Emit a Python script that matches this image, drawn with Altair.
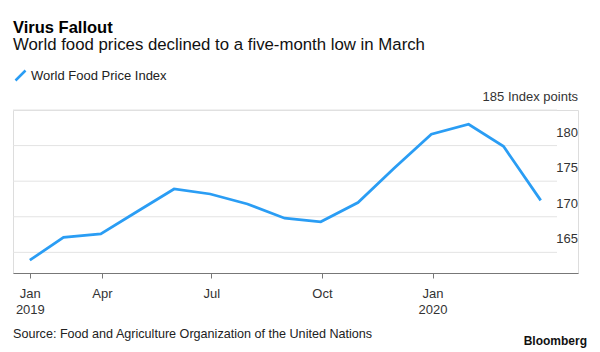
import altair as alt
import pandas as pd

# ---- data ----
dates = ["2019-01-31", "2019-02-28", "2019-03-31", "2019-04-30", "2019-05-31",
         "2019-06-30", "2019-07-31", "2019-08-31", "2019-09-30", "2019-10-31",
         "2019-11-30", "2019-12-31", "2020-01-31", "2020-02-29", "2020-03-31"]
values = [163.9, 167.1, 167.6, 170.7, 173.9, 173.2, 171.8, 169.8, 169.3, 172.0,
          176.8, 181.6, 183.0, 179.9, 172.3]
series_name = "World Food Price Index"

x_tick_dates = ["2019-01-31", "2019-04-01", "2019-07-01", "2019-10-01", "2020-01-01"]
y_ticks = [165, 170, 175, 180, 185]
y_labels = ["165", "170", "175", "180", "185 Index points"]

title_text = "Virus Fallout"
subtitle_text = "World food prices declined to a five-month low in March"
source_text = "Source: Food and Agriculture Organization of the United Nations"
brand_text = "Bloomberg"

FONT = "Liberation Sans"
BLUE = "#2a9df4"
W, H = 565, 163


def dt(s):
    y, m, d = (int(p) for p in s.split("-"))
    return alt.DateTime(year=y, month=m, date=d)


df = pd.DataFrame({"date": dates, "value": values, "series": series_name})
grid_df = pd.DataFrame({"v": y_ticks, "label": y_labels})

yscale = alt.Scale(domain=[162.1, 185], nice=False, zero=False)
xscale = alt.Scale(domain=[dt("2019-01-17"), dt("2020-05-01")], nice=False)

label_expr = ("month(datum.value) == 0 ? [timeFormat(datum.value, '%b'), "
              "timeFormat(datum.value, '%Y')] : timeFormat(datum.value, '%b')")

line = alt.Chart(df).mark_line(strokeWidth=2.75, strokeJoin="miter").encode(
    x=alt.X("date:T", scale=xscale,
            axis=alt.Axis(values=[dt(s) for s in x_tick_dates], labelExpr=label_expr,
                          title=None, grid=False, domainColor="#777", domainWidth=1,
                          tickColor="#777", tickSize=5, labelPadding=9,
                          labelFontSize=13, labelFont=FONT, labelColor="#333",
                          labelLineHeight=16, labelFlush=False, labelOverlap=False,
                          labelAlign="center")),
    y=alt.Y("value:Q", scale=yscale, axis=None),
    color=alt.Color("series:N", scale=alt.Scale(range=[BLUE]),
                    legend=alt.Legend(orient="none", legendX=1, legendY=-41, title=None,
                                      symbolType="M-1,1L1,-1", symbolSize=100,
                                      symbolStrokeWidth=2.5, labelOffset=4,
                                      labelFontSize=13, labelFont=FONT,
                                      labelColor="#222")),
)

grid = alt.Chart(grid_df).mark_rule(color="#e3e3e3", strokeWidth=1).encode(
    y=alt.Y("v:Q", scale=yscale, axis=None),
    x=alt.value(0), x2=alt.value(544),
)

ylabels = alt.Chart(grid_df).mark_text(
    align="right", baseline="middle", dy=-13, fontSize=13, font=FONT, color="#333"
).encode(
    y=alt.Y("v:Q", scale=yscale, axis=None),
    x=alt.value(W),
    text="label:N",
)


def text_layer(txt, x, y, size, weight="normal", align="left", color="#111"):
    return alt.Chart(pd.DataFrame({"t": [txt]})).mark_text(
        align=align, baseline="alphabetic", fontSize=size, fontWeight=weight,
        font=FONT, color=color
    ).encode(x=alt.value(x), y=alt.value(y), text="t:N")


title = text_layer(title_text, 0, -76.7, 16.5, "bold", color="#000")
subtitle = text_layer(subtitle_text, 0, -60, 16.8, color="#111")
source = text_layer(source_text, 0, 227.7, 12.6, color="#222")
brand = text_layer(brand_text, 574, 235, 12, "bold", align="right", color="#111")

chart = alt.layer(grid, line, ylabels, title, subtitle, source, brand).properties(
    width=W, height=H,
    autosize=alt.AutoSizeParams(type="none"),
    padding={"left": 13, "top": 110, "right": 22, "bottom": 79},
).configure_view(stroke=None).configure(background="white")

chart.save("out.html", embed_options={"renderer": "svg", "actions": False})
